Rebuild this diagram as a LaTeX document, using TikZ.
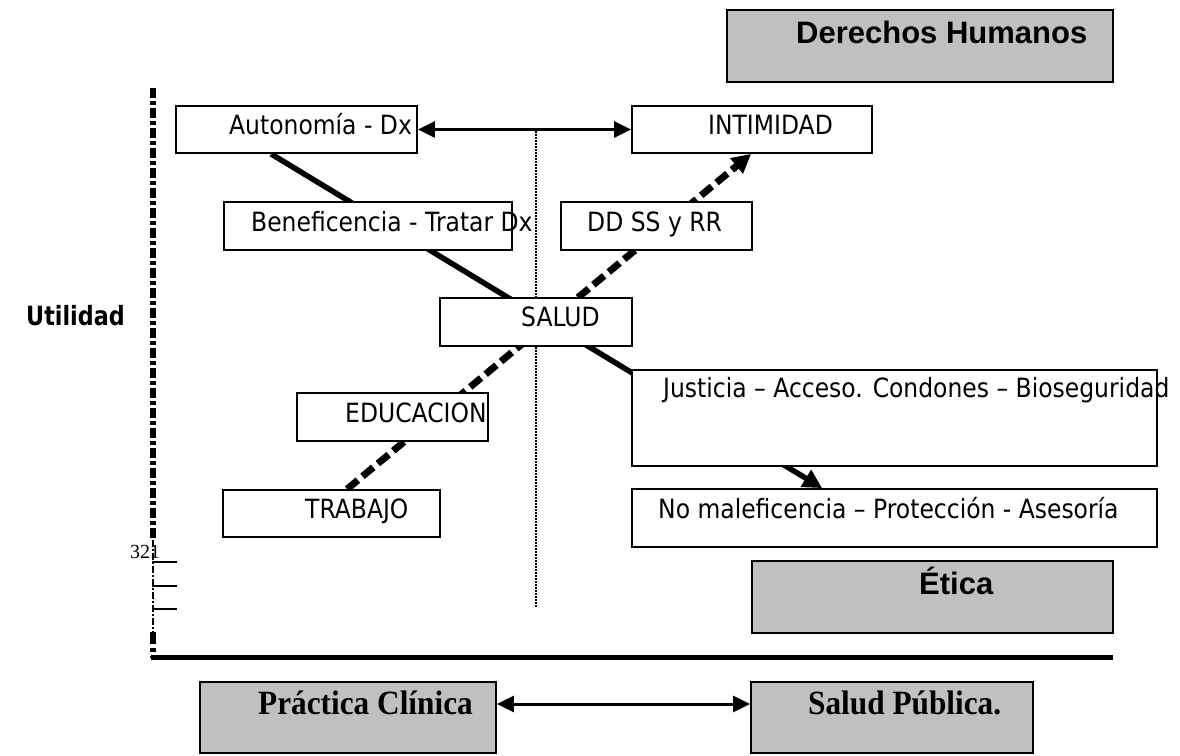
\documentclass[tikz,border=0pt]{standalone}
\usepackage{fontspec}
\setmainfont{Liberation Serif}
\newfontfamily\tah[FakeStretch=0.885]{DejaVu Sans}
\newfontfamily\tahb[FakeStretch=0.84]{DejaVu Sans}
\newfontfamily\arialb{Liberation Sans}
\newfontfamily\timesb[FakeStretch=0.92]{Liberation Serif}
\usetikzlibrary{arrows.meta,calc}
\definecolor{boxgray}{RGB}{192,192,192}
\pgfdeclarelayer{bg}
\pgfsetlayers{bg,main}
\begin{document}
\begin{tikzpicture}[x=1pt,y=-1pt,
  box/.style={draw, line width=1.8pt, fill=white, inner sep=0pt},
  graybox/.style={draw, line width=1.8pt, fill=boxgray, inner sep=0pt},
  txt/.style={anchor=base west, inner sep=0pt, font=\tah\fontsize{26.5}{30}\selectfont},
  bigsans/.style={anchor=base west, inner sep=0pt, font=\arialb\bfseries\fontsize{31}{36}\selectfont},
  bigserif/.style={anchor=base west, inner sep=0pt, font=\timesb\bfseries\fontsize{34}{40}\selectfont},
  solidlink/.style={line width=5.5pt},
  dashlink/.style={line width=7pt, dash pattern=on 14pt off 6pt},
  dbl/.style={line width=3pt, {Triangle[length=17pt,width=16pt]}-{Triangle[length=17pt,width=16pt]}},
  tip/.style={-{Triangle[length=19pt,width=19pt]}}
]
\useasboundingbox (0,0) rectangle (1180,755);

% boxes
\node[graybox, minimum width=386pt, minimum height=72pt] (dh) at (920,46) {};
\node[box, minimum width=241pt, minimum height=47pt] (auto) at (296.5,129.5) {};
\node[box, minimum width=240pt, minimum height=47pt] (intim) at (752,129.5) {};
\node[box, minimum width=288pt, minimum height=48pt] (benef) at (368,226) {};
\node[box, minimum width=191pt, minimum height=48pt] (ddss) at (656.5,226) {};
\node[box, minimum width=192pt, minimum height=48pt] (salud) at (536,322) {};
\node[box, minimum width=525pt, minimum height=96pt] (just) at (894.5,418) {};
\node[box, minimum width=191pt, minimum height=48pt] (educ) at (392.5,417) {};
\node[box, minimum width=217pt, minimum height=47pt] (trab) at (331.5,513.5) {};
\node[box, minimum width=525pt, minimum height=58pt] (nomal) at (894.5,518) {};
\node[graybox, minimum width=361pt, minimum height=72pt] (etica) at (932.5,597) {};
\node[graybox, minimum width=296pt, minimum height=71pt] (prac) at (348,717.5) {};
\node[graybox, minimum width=282pt, minimum height=71pt] (spub) at (892,717.5) {};

% texts
\node[bigsans] (tdh) at (796,43) {Derechos Humanos};
\node[txt] (tauto) at (229,134) {Autonomía - Dx};
\node[txt] (tintim) at (708,134) {INTIMIDAD};
\node[txt] (tbenef) at (251,231) {Beneficencia - Tratar Dx};
\node[txt] (tddss) at (587,231) {DD SS y RR};
\node[txt] (tsalud) at (521,326) {SALUD};
\node[txt] (tjust) at (663,397) {Justicia – Acceso. Condones – Bioseguridad};
\node[txt] (teduc) at (345,422) {EDUCACION};
\node[txt] (ttrab) at (305,518) {TRABAJO};
\node[txt] (tnomal) at (658,518) {No maleficencia – Protección - Asesoría};
\node[bigsans] (tetica) at (919,594) {Ética};
\node[bigserif] (tprac) at (258,714) {Práctica Clínica};
\node[bigserif] (tspub) at (808,714) {Salud Pública.};
\node[anchor=base west, inner sep=0pt, font=\tahb\bfseries\fontsize{26.5}{30}\selectfont] (tutil) at (26,325) {Utilidad};
\node[anchor=base west, inner sep=0pt, font=\fontsize{20}{22}\selectfont] (t321) at (130,558) {321};

% connector end points
\coordinate (a1) at ([xshift=96pt]auto.south west);
\coordinate (n1) at ([xshift=191pt]nomal.north west);
\coordinate (t1) at ([xshift=125pt]trab.north west);
\coordinate (i1) at ([xshift=120pt]intim.south west);

\begin{pgfonlayer}{bg}
  \fill[white] (0,0) rectangle (1180,755);
  % axes
  \draw[line width=5.5pt, dash pattern=on 10pt off 3pt on 4pt off 3pt] (153,88) -- (153,540);
  \draw[line width=2pt, dash pattern=on 7pt off 2pt on 2pt off 2pt] (153,540) -- (153,632);
  \draw[line width=5.5pt, dash pattern=on 12pt off 4pt on 4pt off 4pt] (153,632) -- (153,658);
  \foreach \yy in {562,586,609} \draw[line width=2pt] (152,\yy) -- (177,\yy);
  \draw[line width=5pt] (151,657) -- (1113,657);
  % dotted center line
  \draw[line width=2pt, dash pattern=on 1.5pt off 1.5pt] (536,128) -- (536,607);
  % links
  \draw[solidlink, tip] (a1) -- (n1);
  \draw[dashlink, tip] (t1) -- (i1);
\end{pgfonlayer}

\draw[dbl] (auto.east) -- (intim.west);
\draw[dbl] ([yshift=13.5pt]prac.east) -- ([yshift=13.5pt]spub.west);
\end{tikzpicture}
\end{document}
